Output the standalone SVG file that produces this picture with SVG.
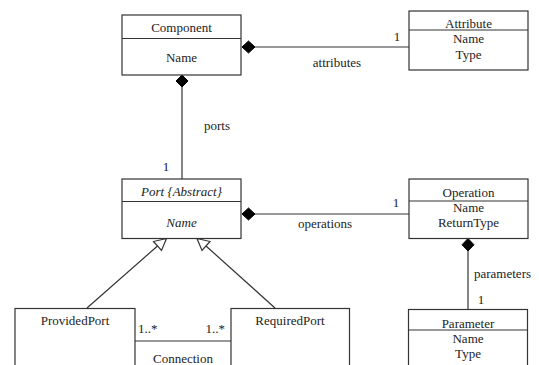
<svg xmlns="http://www.w3.org/2000/svg" width="539" height="365" viewBox="0 0 539 365">
  <style>
    .box { fill: #ffffff; stroke: #333333; stroke-width: 1.2; }
    .line { fill: none; stroke: #333333; stroke-width: 1.2; }
    .diamond { fill: #000000; stroke: #000000; stroke-width: 1; }
    .gen { fill: #ffffff; stroke: #333333; stroke-width: 1.2; }
  </style>
  <rect width="539" height="365" fill="#ffffff"/>

  <!-- connectors -->
  <g id="connectors">
    <!-- Component to Attribute (composition) -->
    <line class="line" x1="255" y1="47" x2="409" y2="47"/>
    <path class="diamond" d="M242,47 L248.5,41 L255,47 L248.5,53 Z"/>
    <!-- Component to Port (composition) -->
    <line class="line" x1="182" y1="87" x2="182" y2="179"/>
    <path class="diamond" d="M182,75 L188,81 L182,87 L176,81 Z"/>
    <!-- Port to Operation (composition) -->
    <line class="line" x1="255" y1="214" x2="409" y2="214"/>
    <path class="diamond" d="M242,214 L248.5,208 L255,214 L248.5,220 Z"/>
    <!-- Operation to Parameter (composition) -->
    <line class="line" x1="468" y1="251" x2="468" y2="309"/>
    <path class="diamond" d="M468,238.5 L474,244.75 L468,251 L462,244.75 Z"/>
    <!-- ProvidedPort generalizes Port -->
    <line class="line" x1="87" y1="308" x2="157.5" y2="246"/>
    <path class="gen" d="M166.5,238.5 L161.5,250.5 L153.5,241.5 Z"/>
    <!-- RequiredPort generalizes Port -->
    <line class="line" x1="275" y1="308" x2="206" y2="246"/>
    <path class="gen" d="M197,238.5 L210,241.5 L202,250.5 Z"/>
    <!-- ProvidedPort to RequiredPort (association) -->
    <line class="line" x1="135" y1="341" x2="231" y2="341"/>
  </g>

  <!-- connector labels -->
  <g id="labels" font-family="Liberation Serif" font-size="13" fill="#222222">
    <text x="337" y="67" text-anchor="middle">attributes</text>
    <text x="397" y="41" text-anchor="middle">1</text>
    <text x="217" y="130" text-anchor="middle">ports</text>
    <text x="166" y="171" text-anchor="middle">1</text>
    <text x="325" y="228" text-anchor="middle">operations</text>
    <text x="396" y="207" text-anchor="middle">1</text>
    <text x="474" y="278">parameters</text>
    <text x="481" y="304" text-anchor="middle">1</text>
    <text x="138" y="333">1..*</text>
    <text x="225" y="333" text-anchor="end">1..*</text>
    <text x="183" y="363" text-anchor="middle">Connection</text>
  </g>

  <g id="component">
    <rect class="box" x="122" y="15" width="119" height="60"/>
    <line class="line" x1="122" y1="38.5" x2="241" y2="38.5"/>
    <text x="181.5" y="32" text-anchor="middle" font-family="Liberation Serif" font-size="13" fill="#222222">Component</text>
    <text x="181.5" y="62" text-anchor="middle" font-family="Liberation Serif" font-size="13" fill="#222222">Name</text>
  </g>

  <g id="attribute">
    <rect class="box" x="409" y="11" width="119" height="59"/>
    <line class="line" x1="409" y1="30" x2="528" y2="30"/>
    <text x="468.5" y="27.5" text-anchor="middle" font-family="Liberation Serif" font-size="13" fill="#222222">Attribute</text>
    <text x="468.5" y="42.5" text-anchor="middle" font-family="Liberation Serif" font-size="13" fill="#222222">Name</text>
    <text x="468.5" y="59" text-anchor="middle" font-family="Liberation Serif" font-size="13" fill="#222222">Type</text>
  </g>

  <g id="port">
    <rect class="box" x="122" y="179" width="119" height="59.5"/>
    <line class="line" x1="122" y1="201.5" x2="241" y2="201.5"/>
    <text x="181.5" y="196" text-anchor="middle" font-style="italic" font-family="Liberation Serif" font-size="13" fill="#222222">Port {Abstract}</text>
    <text x="181.5" y="227" text-anchor="middle" font-style="italic" font-family="Liberation Serif" font-size="13" fill="#222222">Name</text>
  </g>

  <g id="operation">
    <rect class="box" x="409" y="179" width="119" height="59.5"/>
    <line class="line" x1="409" y1="201" x2="528" y2="201"/>
    <text x="468.5" y="196.5" text-anchor="middle" font-family="Liberation Serif" font-size="13" fill="#222222">Operation</text>
    <text x="468.5" y="212" text-anchor="middle" font-family="Liberation Serif" font-size="13" fill="#222222">Name</text>
    <text x="468.5" y="227" text-anchor="middle" font-family="Liberation Serif" font-size="13" fill="#222222">ReturnType</text>
  </g>

  <g id="providedport">
    <rect class="box" x="15" y="308.5" width="120" height="70"/>
    <text x="75" y="325" text-anchor="middle" font-family="Liberation Serif" font-size="13" fill="#222222">ProvidedPort</text>
  </g>

  <g id="requiredport">
    <rect class="box" x="231" y="308.5" width="118.5" height="70"/>
    <text x="290" y="325" text-anchor="middle" font-family="Liberation Serif" font-size="13" fill="#222222">RequiredPort</text>
  </g>

  <g id="parameter">
    <rect class="box" x="408.5" y="309.5" width="119" height="70"/>
    <line class="line" x1="408.5" y1="330" x2="527.5" y2="330"/>
    <text x="468" y="327.5" text-anchor="middle" font-family="Liberation Serif" font-size="13" fill="#222222">Parameter</text>
    <text x="468" y="342.5" text-anchor="middle" font-family="Liberation Serif" font-size="13" fill="#222222">Name</text>
    <text x="468" y="357.5" text-anchor="middle" font-family="Liberation Serif" font-size="13" fill="#222222">Type</text>
  </g>
</svg>
